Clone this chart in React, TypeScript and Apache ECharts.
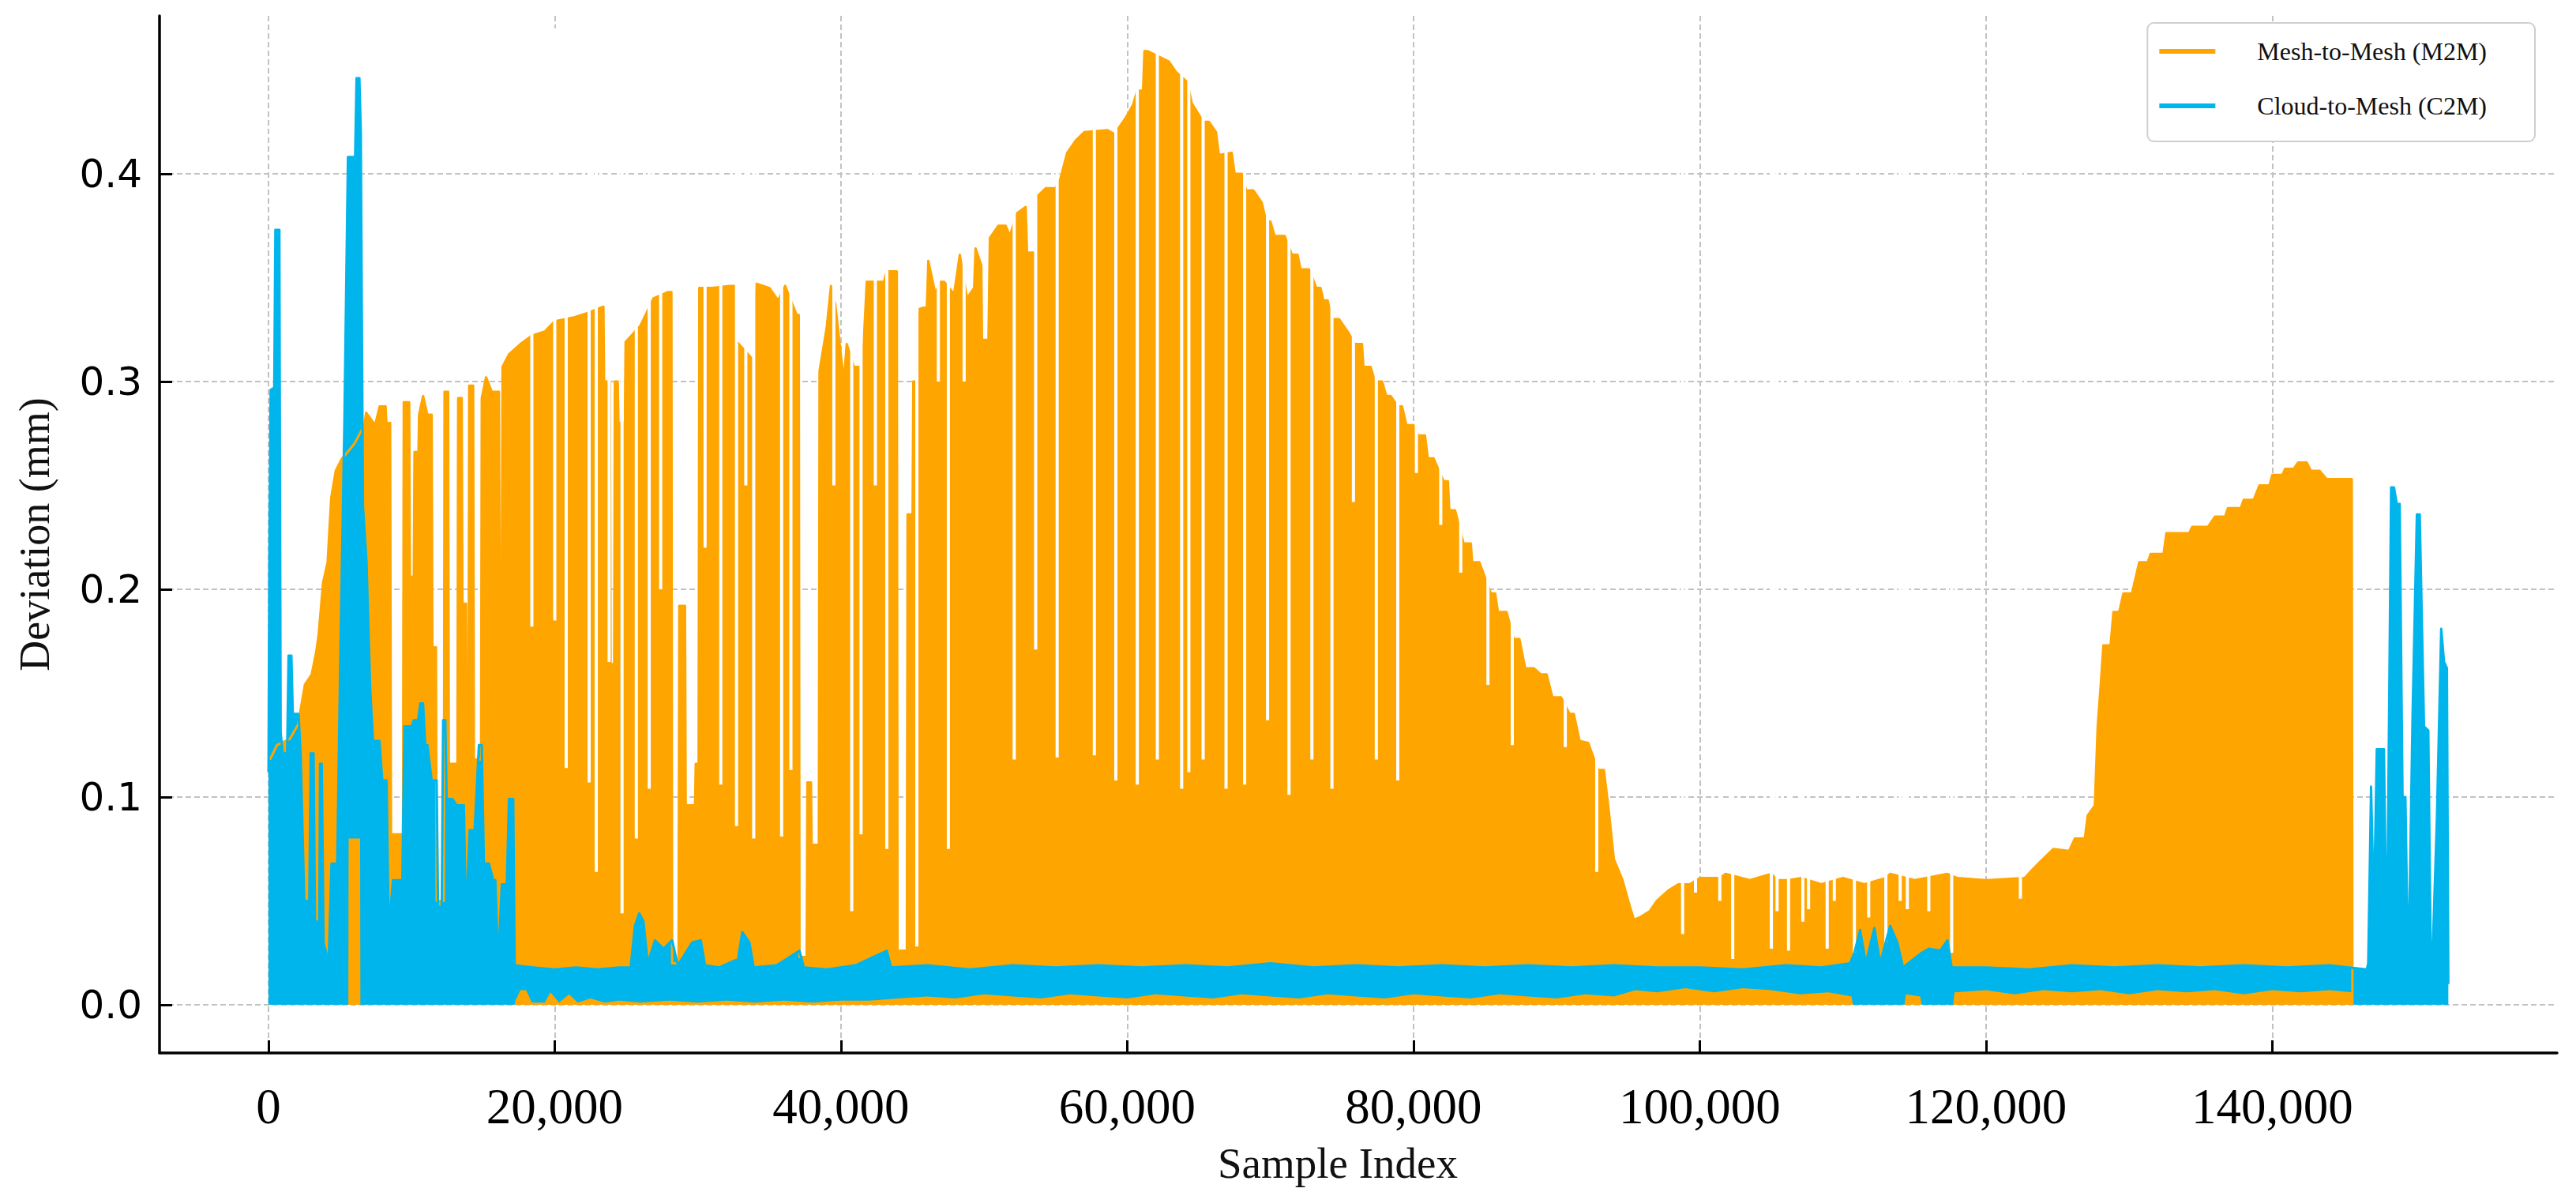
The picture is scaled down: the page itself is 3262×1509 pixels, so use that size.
import React, { useEffect, useRef } from "react";
import * as echarts from "echarts";

const M2M_NAME = "Mesh-to-Mesh (M2M)";
const C2M_NAME = "Cloud-to-Mesh (C2M)";
const ORANGE = "#FFA500";
const BLUE = "#00B5EC";

const xTicks = [0, 20000, 40000, 60000, 80000, 100000, 120000, 140000];
const yTicks = [0, 0.1, 0.2, 0.3, 0.4];

// Upper outline of the Mesh-to-Mesh deviation signal [sample index, mm]
const m2mOutline: [number, number][] = [
  [100, 0.118], [600, 0.125], [1500, 0.128], [2070, 0.135], [2540, 0.154], [3020, 0.159], [3340, 0.17],
  [3500, 0.178], [3810, 0.203], [4130, 0.213], [4380, 0.244], [4700, 0.257], [5140, 0.263], [5400, 0.265],
  [6000, 0.27], [6700, 0.279], [6820, 0.285], [7450, 0.279], [7770, 0.288], [8180, 0.288], [8240, 0.28], [8500, 0.28],
  [8560, 0.082], [9400, 0.082], [9450, 0.29], [9830, 0.29], [9880, 0.206], [10150, 0.206], [10200, 0.266],
  [10480, 0.266], [10520, 0.284], [10800, 0.293], [11100, 0.284], [11400, 0.284], [11450, 0.172], [11700, 0.172],
  [11750, 0.05], [12250, 0.05], [12300, 0.295], [12550, 0.295], [12600, 0.116], [13200, 0.116], [13250, 0.292],
  [13500, 0.292], [13550, 0.193], [13800, 0.193], [13850, 0.118], [13980, 0.118], [14020, 0.298], [14300, 0.298],
  [14350, 0.118], [14850, 0.118], [14900, 0.292], [15200, 0.302], [15600, 0.295], [16100, 0.295], [16150, 0.197],
  [16300, 0.197],
  [16350, 0.307], [16800, 0.313], [17600, 0.318], [18400, 0.322], [19300, 0.324], [20000, 0.329], [21400, 0.331],
  [22300, 0.333], [23400, 0.336], [23450, 0.3], [23850, 0.3], [23900, 0.164], [24150, 0.164], [24200, 0.3],
  [24400, 0.3], [24450, 0.28], [24900, 0.28], [24950, 0.319],
  [26000, 0.327], [26900, 0.34], [27900, 0.343], [28150, 0.343], [28200, 0.02], [28650, 0.02], [28700, 0.192],
  [29100, 0.192], [29150, 0.096], [29800, 0.096], [29850, 0.116], [30050, 0.116], [30100, 0.345], [31000, 0.345],
  [32200, 0.346], [32550, 0.346], [32600, 0.32], [33900, 0.31], [34100, 0.347], [35000, 0.345], [35600, 0.339],
  [36100, 0.346], [36900, 0.332], [37050, 0.332], [37100, 0.023], [37600, 0.023], [37650, 0.107], [37900, 0.107],
  [37950, 0.077], [38450, 0.077], [38500, 0.305], [39000, 0.326], [39300, 0.346], [39600, 0.337], [40200, 0.3],
  [40400, 0.318], [40900, 0.307], [41500, 0.307], [41800, 0.348], [43000, 0.348], [43200, 0.353], [43900, 0.353],
  [43950, 0.026], [44600, 0.026], [44650, 0.236], [45000, 0.236], [45050, 0.3], [45400, 0.3], [45500, 0.335],
  [46000, 0.336], [46100, 0.358], [46600, 0.342], [46900, 0.348], [47200, 0.348], [47900, 0.342], [48300, 0.361],
  [48800, 0.34], [49300, 0.345], [49400, 0.364], [49800, 0.356], [49850, 0.32], [50300, 0.32], [50400, 0.369],
  [51000, 0.375], [51500, 0.375], [51800, 0.37], [52300, 0.381], [52900, 0.384], [53000, 0.362], [53600, 0.362],
  [53700, 0.389], [54300, 0.393], [55000, 0.393], [55300, 0.397], [55800, 0.41], [56400, 0.416], [57000, 0.42],
  [58600, 0.421], [59100, 0.419], [59400, 0.422], [59900, 0.427], [60400, 0.433], [60700, 0.44], [61100, 0.44],
  [61200, 0.459], [61400, 0.459], [62000, 0.457], [62900, 0.454], [63400, 0.449], [64200, 0.444], [64500, 0.434],
  [65300, 0.425], [65700, 0.425], [66200, 0.42], [66400, 0.409], [67300, 0.41], [67500, 0.4], [68000, 0.4],
  [68300, 0.392], [68800, 0.392], [69400, 0.386], [69700, 0.377], [70000, 0.377], [70300, 0.37], [71000, 0.37],
  [71500, 0.361], [71900, 0.361], [72100, 0.354], [72700, 0.354], [73200, 0.345], [73500, 0.345], [73700, 0.339],
  [74000, 0.339], [74300, 0.33], [74800, 0.33], [75400, 0.324], [75900, 0.318], [76400, 0.318], [76500, 0.307],
  [77000, 0.307], [77300, 0.3], [77800, 0.3], [78100, 0.293], [78400, 0.293], [78900, 0.288], [79200, 0.288],
  [79500, 0.279], [80000, 0.279], [80300, 0.274], [80800, 0.274], [81000, 0.263], [81400, 0.263], [82100, 0.252],
  [82400, 0.252], [82500, 0.238], [82900, 0.238], [83500, 0.222], [84000, 0.222], [84100, 0.213], [84600, 0.213],
  [85400, 0.198], [85700, 0.198], [85900, 0.189], [86500, 0.189], [87000, 0.176], [87400, 0.176], [87800, 0.162],
  [88400, 0.162], [88900, 0.159], [89300, 0.159], [89700, 0.148], [90300, 0.148], [90900, 0.14], [91200, 0.14],
  [91600, 0.127], [92200, 0.126], [92900, 0.113], [93300, 0.113], [93600, 0.096], [94000, 0.07], [94600, 0.06],
  [95000, 0.05], [95400, 0.041], [95800, 0.042], [96500, 0.045], [97000, 0.05], [97800, 0.055], [98500, 0.058],
  [99300, 0.058], [100000, 0.061], [101400, 0.061], [101800, 0.063], [103500, 0.06], [105000, 0.063],
  [105400, 0.06], [106200, 0.06], [107100, 0.061], [108500, 0.058], [110000, 0.061], [111500, 0.058],
  [113000, 0.061], [113300, 0.063], [115000, 0.06], [117300, 0.063], [118000, 0.061], [120000, 0.06],
  [122700, 0.061], [123100, 0.064], [123800, 0.069], [124700, 0.075], [125800, 0.074], [126200, 0.08],
  [126900, 0.08], [127100, 0.091], [127600, 0.096], [127800, 0.134], [128000, 0.153], [128200, 0.173],
  [128700, 0.173], [128900, 0.189], [129300, 0.189], [129600, 0.198], [130200, 0.198], [130700, 0.213],
  [131300, 0.213], [131500, 0.217], [132400, 0.217], [132600, 0.227], [134200, 0.227], [134400, 0.23],
  [135500, 0.23], [136000, 0.235], [136700, 0.235], [136900, 0.239], [137800, 0.239], [138000, 0.243],
  [138700, 0.243], [139100, 0.25], [139800, 0.25], [140000, 0.255], [140700, 0.255], [140900, 0.258],
  [141500, 0.258], [141800, 0.261], [142400, 0.261], [142700, 0.257], [143300, 0.257], [143800, 0.253],
  [145550, 0.253], [145600, 0.0],
];

// Narrow drops of the M2M signal (white gaps inside the orange mass): sample index and lowest value
const m2mDropX = [
  18400, 20000, 20800, 22400, 22900, 23800, 24700, 25700, 26600, 27400, 30500, 31600, 32700, 33350, 33900,
  35850, 36500, 39500, 40750, 41400, 42400, 43200, 45300, 46800, 47500, 48600, 52100, 53600, 55100, 57700,
  59200, 60700, 62100, 63800, 64300, 65300, 66900, 68200, 69800, 71300, 72900, 74300, 75800, 77400, 78900,
  80200, 81900, 83300, 85200, 86900, 90600, 92800, 98800, 99700, 101400, 102300, 105000, 105400, 106200,
  107200, 107600, 108900, 109400, 110800, 111800, 113000, 114000, 114500, 116000, 117600, 122400,
];
const m2mDropLow = [
  0.182, 0.185, 0.114, 0.107, 0.064, 0.165, 0.044, 0.08, 0.104, 0.2, 0.22, 0.106, 0.086, 0.25, 0.08,
  0.081, 0.113, 0.25, 0.045, 0.082, 0.25, 0.075, 0.028, 0.3, 0.075, 0.3, 0.118, 0.171, 0.119, 0.12,
  0.108, 0.106, 0.118, 0.104, 0.112, 0.118, 0.104, 0.106, 0.137, 0.101, 0.118, 0.104, 0.242, 0.118, 0.108,
  0.256, 0.231, 0.208, 0.154, 0.125, 0.124, 0.064, 0.034, 0.054, 0.05, 0.022, 0.027, 0.045, 0.026,
  0.04, 0.046, 0.027, 0.05, 0.025, 0.042, 0.03, 0.05, 0.046, 0.045, 0.025, 0.051,
];
const dropTop = 0.47;

// Lowest part of the M2M signal that shows beneath the C2M band
const m2mFloor: [number, number][] = [
  [5580, 0], [5600, 0.08], [6400, 0.08], [6420, 0], [17200, 0],
  [17250, 0.002], [17600, 0.007], [18000, 0.007], [18400, 0.001], [19300, 0.001], [19700, 0.006], [20300, 0.001],
  [21000, 0.005], [21600, 0.001], [22500, 0.003], [23500, 0.001], [24500, 0.002], [26000, 0.001], [28000, 0.002],
  [30000, 0.001], [32000, 0.002], [34000, 0.001], [36000, 0.002], [38000, 0.001], [40000, 0.002], [42000, 0.002],
  [44000, 0.003], [46000, 0.004], [48000, 0.003], [50000, 0.005], [52000, 0.004], [54000, 0.003], [56000, 0.005],
  [58000, 0.004], [60000, 0.003], [62000, 0.005], [64000, 0.004], [66000, 0.003], [68000, 0.005], [70000, 0.004],
  [72000, 0.003], [74000, 0.005], [76000, 0.004], [78000, 0.003], [80000, 0.005], [82000, 0.004], [84000, 0.003],
  [86000, 0.005], [88000, 0.004], [90000, 0.003], [92000, 0.005], [94000, 0.004], [95500, 0.007], [97000, 0.006],
  [99000, 0.008], [101000, 0.006], [103000, 0.008], [105000, 0.007], [107000, 0.005], [109000, 0.006],
  [110600, 0.004], [110700, 0], [114300, 0], [114400, 0.005], [115400, 0.004], [115500, 0], [117700, 0],
  [117800, 0.006], [120000, 0.007], [122000, 0.005], [124000, 0.007], [126000, 0.006], [128000, 0.007],
  [130000, 0.005], [132000, 0.007], [134000, 0.006], [136000, 0.007], [138000, 0.005], [140000, 0.007],
  [142000, 0.006], [144000, 0.007], [145550, 0.006], [145600, 0],
];

// Upper outline of the Cloud-to-Mesh deviation signal [sample index, mm]
const c2mOutline: [number, number][] = [
  [0, 0.112], [60, 0.215], [150, 0.296], [400, 0.297], [480, 0.373], [760, 0.373], [850, 0.131], [1000, 0.121],
  [1300, 0.121], [1400, 0.168], [1600, 0.168], [1700, 0.14], [2100, 0.14], [2250, 0.12], [2500, 0.05],
  [2850, 0.05], [2950, 0.121], [3150, 0.121], [3250, 0.04], [3550, 0.04], [3600, 0.116], [3720, 0.116],
  [3850, 0.03], [4200, 0.02], [4400, 0.068], [4800, 0.068], [5000, 0.16], [5300, 0.28], [5550, 0.408],
  [6050, 0.408], [6150, 0.446], [6350, 0.446], [6450, 0.42], [6600, 0.24], [6850, 0.213], [7100, 0.153],
  [7300, 0.127], [7750, 0.127], [7950, 0.108], [8250, 0.108], [8400, 0.036], [8700, 0.06], [9350, 0.06],
  [9500, 0.134], [10000, 0.134], [10150, 0.137], [10450, 0.137], [10600, 0.145], [10800, 0.145], [10950, 0.125],
  [11100, 0.125], [11400, 0.108], [11750, 0.108], [11850, 0.047], [12100, 0.047], [12200, 0.137], [12350, 0.137],
  [12450, 0.099], [12850, 0.099], [13150, 0.096], [13650, 0.096], [13800, 0.04], [14050, 0.084], [14400, 0.084],
  [14700, 0.125], [14900, 0.125], [15050, 0.068], [15400, 0.068], [15700, 0.06], [15850, 0.06], [16050, 0.02],
  [16300, 0.058], [16650, 0.058], [16800, 0.099], [17100, 0.099], [17200, 0.019],
  [18500, 0.018], [20000, 0.017], [21500, 0.018], [23000, 0.017], [24500, 0.018], [25300, 0.018], [25600, 0.038],
  [25900, 0.044], [26200, 0.04], [26500, 0.02], [27000, 0.031], [27600, 0.027], [28200, 0.031], [28600, 0.019],
  [29600, 0.03], [30200, 0.031], [30500, 0.019], [31500, 0.018], [32800, 0.022], [33100, 0.035], [33600, 0.03],
  [33900, 0.018], [35500, 0.019], [37100, 0.026], [37400, 0.018], [39000, 0.017], [41000, 0.019], [43200, 0.026],
  [43500, 0.018], [46000, 0.019], [49000, 0.017], [52000, 0.019], [55000, 0.018], [58000, 0.019], [61000, 0.018],
  [64000, 0.019], [67000, 0.018], [70000, 0.02], [73000, 0.018], [76000, 0.019], [79000, 0.018], [82000, 0.019],
  [85000, 0.018], [88000, 0.019], [91000, 0.018], [94000, 0.019], [97000, 0.018], [100000, 0.018],
  [103000, 0.017], [106000, 0.019], [108500, 0.018], [110500, 0.02], [110800, 0.025], [111200, 0.036],
  [111600, 0.02], [112200, 0.037], [112600, 0.02], [113300, 0.038], [113800, 0.03], [114200, 0.018],
  [115500, 0.025], [116000, 0.027], [116800, 0.026], [117300, 0.031], [117600, 0.018], [120000, 0.018],
  [123000, 0.017], [126000, 0.019], [129000, 0.018], [132000, 0.019], [135000, 0.018], [138000, 0.019],
  [141000, 0.018], [144000, 0.019], [146600, 0.017],
  [146700, 0.02], [146900, 0.105], [147100, 0.045], [147300, 0.123], [147800, 0.123], [148000, 0.02],
  [148300, 0.249], [148500, 0.249], [148700, 0.241], [148900, 0.241], [149100, 0.1], [149300, 0.1],
  [149500, 0.011], [149800, 0.14], [150100, 0.236], [150300, 0.236], [150600, 0.134], [150900, 0.132],
  [151100, 0.003], [151500, 0.09], [151800, 0.181], [152000, 0.165], [152200, 0.162], [152300, 0.01],
];

const X_MIN = -7614;
const X_MAX = 159894;
const Y_MIN = -0.0232;
const Y_MAX = 0.476;

function fmtThousands(v: number): string {
  return String(Math.round(v)).replace(/\B(?=(\d{3})+(?!\d))/g, ",");
}

function buildDrops(): (number | null)[][] {
  const out: (number | null)[][] = [];
  m2mDropX.forEach((x, i) => {
    out.push([x, m2mDropLow[i]]);
    out.push([x, dropTop]);
    out.push([x, null]);
  });
  return out;
}

function buildOption() {
  const serif = "'Liberation Serif', 'Times New Roman', serif";
  const sans = "'DejaVu Sans', sans-serif";
  const grid = { color: "#c2c2c2", width: 2, type: [7, 4] };
  return {
    animation: false,
    backgroundColor: "#ffffff",
    grid: { left: 202, right: 24, top: 20, bottom: 176, containLabel: false },
    legend: {
      orient: "vertical",
      right: 52,
      top: 29,
      data: [
        { name: M2M_NAME, icon: "rect", itemStyle: { color: ORANGE } },
        { name: C2M_NAME, icon: "rect", itemStyle: { color: BLUE } },
      ],
      itemWidth: 71,
      itemHeight: 6,
      itemGap: 29,
      padding: [16, 61, 25, 15],
      backgroundColor: "#ffffff",
      borderColor: "#cfcfcf",
      borderWidth: 2,
      borderRadius: 8,
      selectedMode: false,
      textStyle: {
        fontFamily: serif,
        fontSize: 32,
        color: "#111111",
        lineHeight: 40,
        padding: [0, 0, 0, 48],
      },
    },
    xAxis: {
      type: "value",
      min: X_MIN,
      max: X_MAX,
      name: "Sample Index",
      nameLocation: "middle",
      nameGap: 112,
      nameTextStyle: { fontFamily: serif, fontSize: 55, color: "#111111", padding: [0, 52, 0, 0] },
      axisLine: { show: true, onZero: false, lineStyle: { color: "#000000", width: 3.5 } },
      axisTick: { show: true, inside: true, length: 16, customValues: xTicks, lineStyle: { color: "#000000", width: 3 } },
      axisLabel: {
        customValues: xTicks,
        formatter: (v: number) => fmtThousands(v),
        fontFamily: serif,
        fontSize: 63,
        color: "#000000",
        margin: 36,
      },
      splitLine: { show: true, lineStyle: grid },
    },
    yAxis: {
      type: "value",
      min: Y_MIN,
      max: Y_MAX,
      name: "Deviation (mm)",
      nameLocation: "middle",
      nameGap: 131,
      nameTextStyle: { fontFamily: serif, fontSize: 54, color: "#111111" },
      axisLine: { show: true, onZero: false, lineStyle: { color: "#000000", width: 3.5 } },
      axisTick: { show: true, inside: true, length: 16, customValues: yTicks, lineStyle: { color: "#000000", width: 3 } },
      axisLabel: {
        customValues: yTicks,
        formatter: (v: number) => v.toFixed(1),
        fontFamily: sans,
        fontSize: 50,
        color: "#000000",
        margin: 22,
      },
      splitLine: { show: true, lineStyle: grid },
    },
    series: [
      {
        name: M2M_NAME,
        type: "line",
        data: m2mOutline,
        symbol: "none",
        showSymbol: false,
        silent: true,
        lineStyle: { color: ORANGE, width: 3, join: "round" },
        itemStyle: { color: ORANGE },
        areaStyle: { color: ORANGE, opacity: 1 },
      },
      {
        name: "m2m-drops",
        type: "line",
        data: buildDrops(),
        symbol: "none",
        showSymbol: false,
        silent: true,
        connectNulls: false,
        lineStyle: { color: "#ffffff", width: 4, cap: "butt" },
        itemStyle: { color: "#ffffff" },
      },
      {
        name: C2M_NAME,
        type: "line",
        data: c2mOutline,
        symbol: "none",
        showSymbol: false,
        silent: true,
        lineStyle: { color: BLUE, width: 3, join: "round" },
        itemStyle: { color: BLUE },
        areaStyle: { color: BLUE, opacity: 1 },
      },
      {
        name: "m2m-floor",
        type: "line",
        data: m2mFloor,
        symbol: "none",
        showSymbol: false,
        silent: true,
        lineStyle: { width: 0, color: ORANGE },
        itemStyle: { color: ORANGE },
        areaStyle: { color: ORANGE, opacity: 1 },
      },
    ],
  };
}

export default function App() {
  const ref = useRef<HTMLDivElement | null>(null);
  useEffect(() => {
    document.body.style.margin = "0";
    if (!ref.current) return;
    const chart = echarts.init(ref.current, null, { renderer: "svg" });
    chart.setOption(buildOption() as any);
    return () => chart.dispose();
  }, []);
  return <div ref={ref} style={{ width: 3262, height: 1509 }} />;
}
